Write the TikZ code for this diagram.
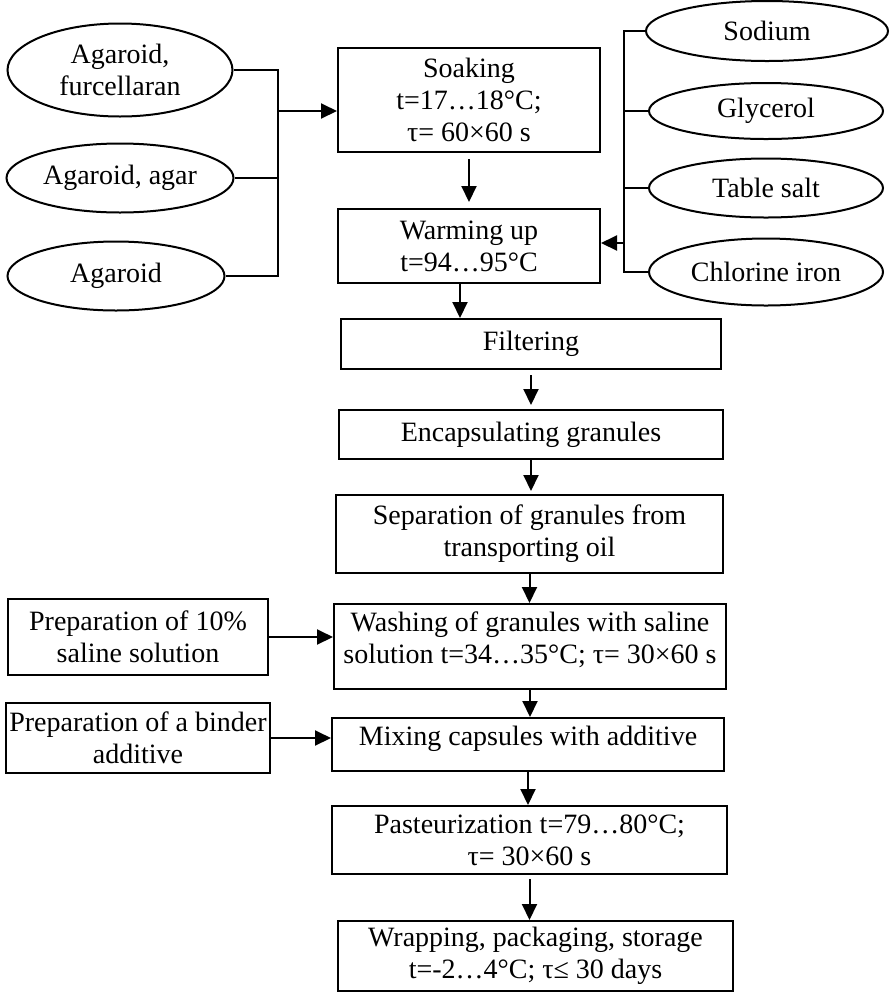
\documentclass[tikz,border=0pt]{standalone}
\usepackage{fontspec}
\setmainfont{Liberation Serif}
\usetikzlibrary{arrows.meta,shapes.geometric}

\begin{document}
\begin{tikzpicture}[x=0.5pt, y=-0.5pt,
  font=\fontsize{14}{16}\selectfont,
  box/.style={draw, line width=1pt, align=center, inner sep=1pt},
  oval/.style={draw, ellipse, line width=1pt, align=center, inner sep=0pt},
  arrow/.style={-{Triangle[length=8pt, width=7.5pt]}, line width=1pt},
  link/.style={line width=1pt}]
  \useasboundingbox (0,0) rectangle (891,992);
  % raw materials
  \node[oval, minimum width=112.5pt, minimum height=46.5pt] (furc) at (120,70) {Agaroid,\\ furcellaran};
  \node[oval, minimum width=113.5pt, minimum height=34.5pt] (agar) at (120,178) {Agaroid, agar};
  \node[oval, minimum width=108.5pt, minimum height=34.5pt] (agaroid) at (116,276) {Agaroid};
  % additives
  \node[oval, minimum width=121pt, minimum height=30pt] (sodium) at (767,31) {Sodium};
  \node[oval, minimum width=117pt, minimum height=28pt] (glyc) at (766,111) {Glycerol};
  \node[oval, minimum width=117pt, minimum height=29.5pt] (salt) at (766,188) {Table salt};
  \node[oval, minimum width=117pt, minimum height=33.5pt] (chlor) at (766,272) {Chlorine iron};
  % process steps
  \node[box, minimum width=131pt, minimum height=52pt] (soak) at (469,100) {Soaking\\ t=17…18°C;\\ τ= 60×60 s};
  \node[box, minimum width=131pt, minimum height=37pt] (warm) at (469,246) {Warming up\\ t=94…95°C};
  \node[box, minimum width=190pt, minimum height=25pt] (filter) at (531,344) {Filtering};
  \node[box, minimum width=192pt, minimum height=24.5pt] (encap) at (531,434.5) {Encapsulating granules};
  \node[box, minimum width=193.5pt, minimum height=39pt] (separ) at (529.5,534) {Separation of granules from\\ transporting oil};
  \node[box, minimum width=196pt, minimum height=42.5pt, text depth=9pt] (wash) at (530,646.5) {Washing of granules with saline\\ solution t=34…35°C; τ= 30×60 s};
  \node[box, minimum width=196pt, minimum height=26.5pt, text depth=9pt] (mix) at (528,744.5) {Mixing capsules with additive};
  \node[box, minimum width=197.5pt, minimum height=34pt] (past) at (529.5,840) {Pasteurization t=79…80°C;\\ τ= 30×60 s};
  \node[box, minimum width=197.5pt, minimum height=35pt] (wrap) at (535.5,956) {Wrapping, packaging, storage\\ t=-2…4°C; τ≤ 30 days};
  % side preparations
  \node[box, minimum width=130pt, minimum height=38pt] (prep) at (138,637) {Preparation of 10\%\\ saline solution};
  \node[box, minimum width=132pt, minimum height=35pt, inner xsep=0.5pt] (binder) at (138,738) {Preparation of a binder\\ additive};
  % collecting lines
  \coordinate (lbus) at (278,111);
  \draw[link] (furc.east) -- (furc.east -| lbus) -- (agaroid.east -| lbus) -- (agaroid.east);
  \draw[link] (agar.east) -- (agar.east -| lbus);
  \draw[arrow] (lbus) -- (lbus -| soak.west);
  \coordinate (rbus) at (624,243);
  \draw[link] (sodium.west) -- (sodium.west -| rbus) -- (chlor.west -| rbus) -- (chlor.west);
  \draw[link] (glyc.west) -- (glyc.west -| rbus);
  \draw[link] (salt.west) -- (salt.west -| rbus);
  \draw[arrow] (rbus) -- (rbus -| warm.east);
  % main flow
  \draw[arrow, shorten <=3pt, shorten >=3pt] (soak) -- (warm);
  \draw[arrow] ([xshift=-4.5pt]warm.south) -- ([xshift=-4.5pt]warm.south |- filter.north);
  \draw[arrow, shorten <=2.5pt, shorten >=2pt] (filter) -- (encap);
  \draw[arrow, shorten >=1.5pt] (encap.south) -- (encap.south |- separ.north);
  \draw[arrow] (separ.south) -- (separ.south |- wash.north);
  \draw[arrow] (wash.south) -- (wash.south |- mix.north);
  \draw[arrow] (mix.south) -- (mix.south |- past.north);
  \draw[arrow, shorten <=2pt] (past.south) -- (past.south |- wrap.north);
  \draw[arrow] (prep) -- (prep -| wash.west);
  \draw[arrow] (binder) -- (binder -| mix.west);
\end{tikzpicture}
\end{document}
